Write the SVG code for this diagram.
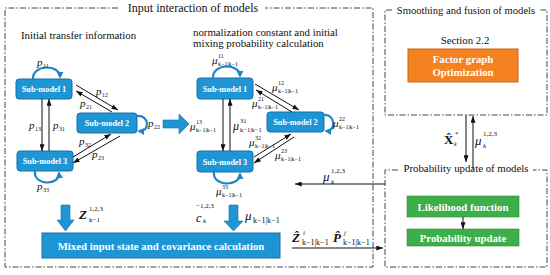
<svg xmlns="http://www.w3.org/2000/svg" width="550" height="275" viewBox="0 0 550 275">
<defs>
<style>
text{font-family:"Liberation Serif","DejaVu Serif",serif;fill:#111}
.t{font-size:10.8px}
.tt{font-size:12px}
.sm{font-size:8.3px;font-weight:bold;fill:#fff}
.wb{font-size:10.8px;font-weight:bold;fill:#fff}
.mi{font-size:11px;font-style:italic}
.ms{font-size:6px}
.mb{font-size:13px;font-weight:bold;font-style:italic}
.box{fill:#1E96D5;stroke:#1A6FA3;stroke-width:1}
.dd{fill:none;stroke:#444;stroke-width:1;stroke-dasharray:6 2 1.5 2}
.ln{fill:none;stroke:#111;stroke-width:1}
.loop{fill:none;stroke:#1E86C5;stroke-width:2.2}
.blk{fill:#1E96D5;stroke:#1A6FA3;stroke-width:0.6}
</style>
<marker id="ah" viewBox="0 0 8 6" refX="8" refY="3" markerWidth="7" markerHeight="5" markerUnits="userSpaceOnUse" orient="auto"><path d="M0,0 L8,3 L0,6 z" fill="#111"/></marker>
<marker id="bh" viewBox="0 0 8 8" refX="6" refY="4" markerWidth="7" markerHeight="7" markerUnits="userSpaceOnUse" orient="auto"><path d="M0,0 L8,4 L0,8 z" fill="#1E86C5"/></marker>
</defs>

<!-- frames -->
<g id="frames">
<path class="dd" d="M118,8 H5 V267 H373 V8 H265"/>
<path class="dd" d="M392,10 H385 V115 H547 V10 H540"/>
<path class="dd" d="M398,170 H385 V267 H547 V170 H533"/>
<text class="tt" x="193" y="12" text-anchor="middle">Input interaction of models</text>
<text class="t" x="466" y="13.5" text-anchor="middle" style="font-size:10.6px">Smoothing and fusion of models</text>
<text class="t" x="466" y="171.5" text-anchor="middle">Probability update of models</text>
<text class="t" x="21" y="38.5">Initial transfer information</text>
<text class="t" x="193" y="35.5">normalization constant and initial</text>
<text class="t" x="193" y="47">mixing probability calculation</text>
<text class="t" x="465" y="43.5" text-anchor="middle">Section 2.2</text>
</g>

<!-- left triangle nodes -->
<g id="l-sm1"><rect class="box" x="16" y="79" width="56" height="20" rx="3"/><text class="sm" x="44" y="92" text-anchor="middle">Sub-model 1</text></g>
<g id="l-sm2"><rect class="box" x="77" y="113" width="60" height="20" rx="3"/><text class="sm" x="107" y="126" text-anchor="middle">Sub-model 2</text></g>
<g id="l-sm3"><rect class="box" x="17" y="151" width="56" height="20" rx="3"/><text class="sm" x="45" y="164" text-anchor="middle">Sub-model 3</text></g>

<!-- middle triangle nodes -->
<g id="m-sm1"><rect class="box" x="197" y="78" width="56" height="21" rx="3"/><text class="sm" x="225" y="91.5" text-anchor="middle">Sub-model 1</text></g>
<g id="m-sm2"><rect class="box" x="267" y="112" width="57" height="20" rx="3"/><text class="sm" x="295.5" y="125" text-anchor="middle">Sub-model 2</text></g>
<g id="m-sm3"><rect class="box" x="197" y="151" width="56" height="21" rx="3"/><text class="sm" x="225" y="164.5" text-anchor="middle">Sub-model 3</text></g>

<!-- other nodes -->
<g id="mixed"><rect class="box" x="42" y="233" width="238" height="25"/><text class="wb" x="161" y="249.5" text-anchor="middle">Mixed input state and covariance calculation</text></g>
<g id="factor"><rect x="408" y="49" width="110" height="33" fill="#F58220" stroke="#C9661A" stroke-width="1"/><text class="wb" x="463" y="63" text-anchor="middle">Factor graph</text><text class="wb" x="463" y="76" text-anchor="middle">Optimization</text></g>
<g id="likelihood"><rect x="407" y="196" width="112" height="21" fill="#3DAE49" stroke="#2E8A38" stroke-width="0.6"/><text class="wb" x="463" y="210.5" text-anchor="middle">Likelihood function</text></g>
<g id="probupd"><rect x="407" y="229" width="112" height="17" fill="#3DAE49" stroke="#2E8A38" stroke-width="0.6"/><text class="wb" x="463" y="241.5" text-anchor="middle">Probability update</text></g>

<!-- connectors -->
<g id="connectors">
<!-- left triangle -->
<path class="loop" d="M33,79 C32,64 60,64 60,77" marker-end="url(#bh)"/>
<path class="loop" d="M137,116 C150,115 150,132 139,131" marker-end="url(#bh)"/>
<path class="loop" d="M35,171 C33,186 60,186 59,173" marker-end="url(#bh)"/>
<line class="ln" x1="42" y1="99" x2="42" y2="151" marker-end="url(#ah)"/>
<line class="ln" x1="49" y1="151" x2="49" y2="99" marker-end="url(#ah)"/>
<line class="ln" x1="76" y1="85" x2="118" y2="110" marker-end="url(#ah)"/>
<line class="ln" x1="112" y1="112" x2="76" y2="91" marker-end="url(#ah)"/>
<line class="ln" x1="73" y1="157" x2="111" y2="134" marker-end="url(#ah)"/>
<line class="ln" x1="120" y1="136" x2="73" y2="163" marker-end="url(#ah)"/>
<!-- middle triangle -->
<path class="loop" d="M213,78 C212,63 240,63 240,76" marker-end="url(#bh)"/>
<path class="loop" d="M324,115 C336,114 336,132 326,131" marker-end="url(#bh)"/>
<path class="loop" d="M214,172 C212,187 240,187 240,174" marker-end="url(#bh)"/>
<line class="ln" x1="223" y1="99" x2="223" y2="151" marker-end="url(#ah)"/>
<line class="ln" x1="230" y1="151" x2="230" y2="99" marker-end="url(#ah)"/>
<line class="ln" x1="255" y1="84" x2="299" y2="110" marker-end="url(#ah)"/>
<line class="ln" x1="292" y1="112" x2="256" y2="90" marker-end="url(#ah)"/>
<line class="ln" x1="254" y1="157" x2="291" y2="134" marker-end="url(#ah)"/>
<line class="ln" x1="294" y1="137" x2="254" y2="163" marker-end="url(#ah)"/>
<!-- block arrows -->
<polygon class="blk" points="163,120 179,120 179,114 189,124 179,134 179,128 163,128"/>
<polygon class="blk" points="61,205 70,205 70,220 74,220 65.5,231 57,220 61,220"/>
<polygon class="blk" points="229,205 238,205 238,221 243,221 233.5,231 224,221 229,221"/>
<!-- right side -->
<line class="ln" x1="466" y1="115" x2="466" y2="162" marker-end="url(#ah)"/>
<line class="ln" x1="473" y1="169" x2="473" y2="116" marker-end="url(#ah)"/>
<line class="ln" x1="385" y1="184" x2="295" y2="184" marker-end="url(#ah)"/>
<line class="ln" x1="292" y1="248" x2="383" y2="248" marker-end="url(#ah)"/>
<line class="ln" x1="463" y1="217" x2="463" y2="229" marker-end="url(#ah)"/>
</g>

<!-- labels -->
<g id="labels">
<text class="mi" x="37" y="66">p</text><text class="ms" x="43" y="68">11</text>
<text class="mi" x="96" y="95">p</text><text class="ms" x="102" y="97">12</text>
<text class="mi" x="80" y="107">p</text><text class="ms" x="86" y="109">21</text>
<text class="mi" x="29" y="129">p</text><text class="ms" x="35" y="131">13</text>
<text class="mi" x="53" y="129">p</text><text class="ms" x="59" y="131">31</text>
<text class="mi" x="148" y="127">p</text><text class="ms" x="154" y="129">22</text>
<text class="mi" x="79" y="145">p</text><text class="ms" x="85" y="147">32</text>
<text class="mi" x="92" y="158">p</text><text class="ms" x="98" y="160">23</text>
<text class="mi" x="37" y="190">p</text><text class="ms" x="43" y="192">33</text>

<text class="mi" x="212" y="64">μ</text><text class="ms" x="218" y="58">11</text><text class="ms" x="218" y="66">k−1|k−1</text>
<text class="mi" x="272" y="91">μ</text><text class="ms" x="278" y="85">12</text><text class="ms" x="278" y="93">k−1|k−1</text>
<text class="mi" x="252" y="107">μ</text><text class="ms" x="258" y="101">21</text><text class="ms" x="258" y="109">k−1|k−1</text>
<text class="mi" x="190" y="130">μ</text><text class="ms" x="196" y="124">13</text><text class="ms" x="196" y="132">k−1|k−1</text>
<text class="mi" x="233" y="130" style="font-size:12px">μ</text><text class="ms" x="240" y="123" style="font-size:6.5px">31</text><text class="ms" x="240" y="132" style="font-size:6.5px">k−1|k−1</text>
<text class="mi" x="333" y="127">μ</text><text class="ms" x="339" y="121">22</text><text class="ms" x="339" y="129">k−1|k−1</text>
<text class="mi" x="249" y="146">μ</text><text class="ms" x="255" y="140">32</text><text class="ms" x="255" y="148">k−1|k−1</text>
<text class="mi" x="275" y="159">μ</text><text class="ms" x="281" y="153">23</text><text class="ms" x="281" y="161">k−1|k−1</text>
<text class="mi" x="216" y="195">μ</text><text class="ms" x="222" y="189">33</text><text class="ms" x="222" y="197">k−1|k−1</text>

<text class="mb" x="79" y="219">Z</text><text class="ms" x="89" y="211" style="font-size:7px">1,2,3</text><text class="ms" x="89" y="222" style="font-size:7px">k−1</text>
<text class="ms" x="196" y="207.5" style="font-size:7px">−1,2,3</text><text class="mi" x="196" y="222" style="font-size:12.5px">c</text><text class="ms" x="203" y="223" style="font-size:7px;font-style:italic">k</text>
<text class="mi" x="245" y="220" style="font-size:13px">μ</text><text class="ms" x="253" y="223" style="font-size:8px">k−1|k−1</text>

<text class="mb" x="292" y="242">Ẑ</text><text class="ms" x="303" y="235" style="font-size:7px;font-style:italic">i</text><text class="ms" x="302" y="245" style="font-size:8px">k−1|k−1</text>
<text class="mb" x="333" y="242">P̂</text><text class="ms" x="344" y="235" style="font-size:7px;font-style:italic">j</text><text class="ms" x="343" y="245" style="font-size:8px">k−1|k−1</text>

<text class="mi" x="323" y="181" style="font-size:13px">μ</text><text class="ms" x="331" y="173" style="font-size:7px">1,2,3</text><text class="ms" x="331" y="184" style="font-size:7px;font-style:italic">k</text>

<text style="font-size:13px;font-weight:bold" x="444" y="144">X̂</text><text class="ms" x="455" y="136" style="font-size:7px">*</text><text class="ms" x="454" y="146" style="font-size:6px;font-style:italic">k</text>
<text class="mi" x="475" y="145" style="font-size:13px">μ</text><text class="ms" x="483" y="136" style="font-size:7px">1,2,3</text><text class="ms" x="483" y="148" style="font-size:7px;font-style:italic">k</text>
</g>
</svg>
